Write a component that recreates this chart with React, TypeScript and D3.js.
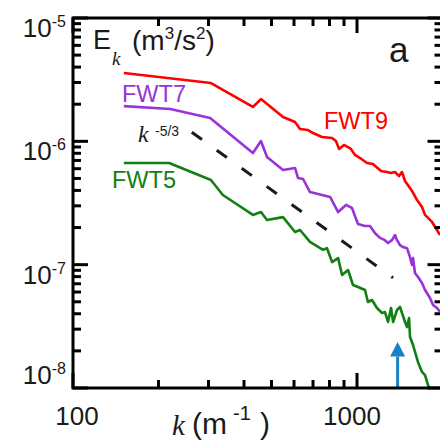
import React from "react";
import * as d3 from "d3";

// Wavenumber spectra of kinetic energy for three runs
const kFWT9 = [151, 306, 430, 459, 549, 605, 630, 672, 700, 753, 817, 843, 865, 900, 952, 984, 1025, 1084, 1138, 1215, 1275, 1318, 1361, 1406, 1440, 1476, 1562, 1627, 1694, 1736, 1837, 1913, 1960];
const eFWT9 = [3.58e-6, 2.97e-6, 1.9e-6, 2.2e-6, 1.575e-6, 1.434e-6, 1.26e-6, 1.235e-6, 1.168e-6, 1.084e-6, 1.064e-6, 1.006e-6, 8.67e-7, 9.34e-7, 8.67e-7, 7.75e-7, 7.32e-7, 6.67e-7, 6.55e-7, 5.75e-7, 5.64e-7, 5.53e-7, 5.64e-7, 5.23e-7, 5.64e-7, 4.77e-7, 3.96e-7, 3.34e-7, 2.93e-7, 2.53e-7, 2.22e-7, 1.91e-7, 1.74e-7];

const kFWT7 = [151, 220, 304, 430, 459, 482, 549, 605, 620, 646, 683, 804, 858, 915, 960, 1008, 1067, 1111, 1158, 1205, 1254, 1286, 1328, 1361, 1383, 1417, 1452, 1500, 1537, 1562, 1575, 1600, 1640, 1694, 1736, 1807, 1852, 1913, 1960];
const eFWT7 = [1.93e-6, 1.83e-6, 1.546e-6, 8.04e-7, 1.006e-6, 7.46e-7, 5.86e-7, 6.08e-7, 5.04e-7, 4.95e-7, 3.88e-7, 3.54e-7, 2.67e-7, 3.05e-7, 2.88e-7, 2.14e-7, 2.06e-7, 2.06e-7, 1.8e-7, 1.65e-7, 1.58e-7, 1.5e-7, 1.58e-7, 1.74e-7, 1.58e-7, 1.44e-7, 1.39e-7, 1.36e-7, 1.15e-7, 9.94e-8, 1.13e-7, 8.56e-8, 7.94e-8, 7.1e-8, 6.23e-8, 5.37e-8, 4.71e-8, 4.45e-8, 4.13e-8];

const kFWT5 = [151, 218, 306, 337, 430, 459, 482, 549, 605, 630, 683, 759, 784, 817, 858, 886, 930, 968, 1008, 1067, 1093, 1129, 1176, 1225, 1254, 1286, 1318, 1340, 1383, 1417, 1476, 1500, 1525, 1537, 1575, 1640, 1694, 1736, 1778, 1807];
const eFWT5 = [6.67e-7, 6.67e-7, 4.86e-7, 3.67e-7, 2.53e-7, 2.67e-7, 2.3e-7, 2.43e-7, 1.84e-7, 1.91e-7, 1.53e-7, 1.32e-7, 1.36e-7, 1.05e-7, 1.13e-7, 8.24e-8, 9.05e-8, 6.84e-8, 6.59e-8, 6.23e-8, 4.98e-8, 5.17e-8, 4.45e-8, 4.06e-8, 4.13e-8, 3.43e-8, 4.45e-8, 3.43e-8, 4.29e-8, 4.54e-8, 3.43e-8, 3.12e-8, 3.69e-8, 2.59e-8, 2.23e-8, 1.62e-8, 1.35e-8, 1.27e-8, 1.06e-8, 9.6e-9];

// Kolmogorov k^-5/3 reference slope
const lawRange = [262, 1340];
const lawRef = [593, 3.04e-7];
const lawExponent = -5 / 3;

// Marked wavenumber (arrow)
const arrowK = 1390;
const arrowTipE = 2.36e-8;
const arrowHeadE = 1.8e-8;

const xTickMajor = [100, 1000];
const xTickLabels = ["100", "1000"];
const yTickMajor = [1e-8, 1e-7, 1e-6, 1e-5];
const yTickExp = ["-8", "-7", "-6", "-5"];

const W = 440;
const H = 446;
const left = 73;
const top = 18;
const bottom = 388;
const right = 442.5;

const RED = "#ff0000";
const PURPLE = "#9a32db";
const GREEN = "#117f11";
const BLUE = "#1b7fc6";
const SANS = "'Liberation Sans', Arial, sans-serif";
const SERIF = "'Liberation Serif', 'Times New Roman', serif";

export default function App() {
  const x = d3.scaleLog().domain([100, 2000]).range([left, right]);
  const y = d3.scaleLog().domain([1e-8, 1e-5]).range([bottom, top]);

  const line = d3
    .line<[number, number]>()
    .x((d) => x(d[0]))
    .y((d) => y(d[1]));

  const zip = (ks: number[], es: number[]) => ks.map((k, i) => [k, es[i]] as [number, number]);

  const series = [
    { id: "FWT9", data: zip(kFWT9, eFWT9), color: RED },
    { id: "FWT7", data: zip(kFWT7, eFWT7), color: PURPLE },
    { id: "FWT5", data: zip(kFWT5, eFWT5), color: GREEN },
  ];

  const lawE = (k: number) => lawRef[1] * Math.pow(k / lawRef[0], lawExponent);
  const lawPts: [number, number][] = lawRange.map((k) => [k, lawE(k)]);

  // minor ticks
  const xMinor: number[] = [];
  for (let d = 100; d <= 1000; d *= 10) for (let m = 2; m <= 9; m++) if (d * m < 2000) xMinor.push(d * m);
  const yMinor: number[] = [];
  for (let d = 1e-8; d < 1e-5; d *= 10) for (let m = 2; m <= 9; m++) yMinor.push(d * m);

  const major = 15;
  const minor = 8;

  const ax = x(arrowK);

  // the lowest decade label is lifted so it clears the x tick labels
  const yLabelBaseline = (v: number) => (v === 1e-8 ? y(v) - 4 : y(v) + 19);

  return (
    <svg width={W} height={H} style={{ position: "absolute", left: 0, top: 0, background: "#fff" }}>
      <defs>
        <clipPath id="plot">
          <rect x={left} y={top} width={right - left} height={bottom - top} />
        </clipPath>
      </defs>

      {/* data curves */}
      <g clipPath="url(#plot)" fill="none" strokeLinejoin="round">
        {series.map((s) => (
          <path key={s.id} d={line(s.data) || ""} stroke={s.color} strokeWidth={2.6} />
        ))}
        <path
          d={line(lawPts) || ""}
          stroke="#1a1a1a"
          strokeWidth={3}
          strokeDasharray="12.5 18.3"
        />
      </g>

      {/* arrow */}
      <g fill={BLUE}>
        <rect x={ax - 1.5} y={y(arrowHeadE)} width={3} height={bottom - y(arrowHeadE)} />
        <path d={`M${ax},${y(arrowTipE)} L${ax + 7.5},${y(arrowHeadE)} L${ax - 7.5},${y(arrowHeadE)} Z`} />
      </g>

      {/* ticks */}
      <g stroke="#000" strokeWidth={3}>
        {xTickMajor.map((v) => (
          <g key={"xM" + v}>
            <line x1={x(v)} x2={x(v)} y1={bottom} y2={bottom - major} />
            <line x1={x(v)} x2={x(v)} y1={top} y2={top + major} />
          </g>
        ))}
        {xMinor.map((v) => (
          <g key={"xm" + v}>
            <line x1={x(v)} x2={x(v)} y1={bottom} y2={bottom - minor} />
            <line x1={x(v)} x2={x(v)} y1={top} y2={top + minor} />
          </g>
        ))}
        {yTickMajor.map((v) => (
          <g key={"yM" + v}>
            <line x1={left} x2={left + major} y1={y(v)} y2={y(v)} />
            <line x1={right} x2={right - major} y1={y(v)} y2={y(v)} />
          </g>
        ))}
        {yMinor.map((v) => (
          <g key={"ym" + v}>
            <line x1={left} x2={left + minor} y1={y(v)} y2={y(v)} />
            <line x1={right} x2={right - minor} y1={y(v)} y2={y(v)} />
          </g>
        ))}
      </g>

      {/* frame */}
      <rect x={left} y={top} width={right - left} height={bottom - top} fill="none" stroke="#000" strokeWidth={3} />

      {/* tick labels */}
      <g fontFamily={SANS} fill="#1a1a1a">
        {yTickMajor.map((v, i) => (
          <text key={"yl" + v} x={66} y={yLabelBaseline(v)} textAnchor="end" fontSize={26}>
            10
            <tspan fontSize={16} dy={-10}>
              {yTickExp[i]}
            </tspan>
          </text>
        ))}
        {xTickMajor.map((v, i) => (
          <text key={"xl" + v} x={x(v) + (i === 0 ? 4 : -5)} y={425} textAnchor="middle" fontSize={26}>
            {xTickLabels[i]}
          </text>
        ))}
      </g>

      {/* axis titles */}
      <g fill="#1a1a1a">
        <text x={172} y={435} fontFamily={SERIF} fontStyle="italic" fontSize={29}>k</text>
        <text x={192} y={434} fontFamily={SANS} fontSize={30}>(m</text>
        <text x={233} y={420} fontFamily={SANS} fontSize={20}>-1</text>
        <text x={260} y={434} fontFamily={SANS} fontSize={30}>)</text>

        <text x={93} y={49} fontFamily={SANS} fontSize={27}>E</text>
        <text x={112} y={65} fontFamily={SERIF} fontStyle="italic" fontSize={19}>k</text>
        <text x={132} y={50} fontFamily={SANS} fontSize={28}>
          (m<tspan fontSize={17} dy={-11}>3</tspan>
          <tspan dy={11}>/s</tspan>
          <tspan fontSize={17} dy={-11}>2</tspan>
          <tspan dy={11}>)</tspan>
        </text>

        <text x={389} y={62} fontFamily={SANS} fontSize={35}>a</text>

        <text x={138} y={142} fontFamily={SERIF} fontStyle="italic" fontSize={24}>k</text>
        <text x={155} y={136} fontFamily={SANS} fontSize={14}>-5/3</text>
      </g>

      {/* series labels */}
      <g fontFamily={SANS} fontSize={23.5}>
        <text x={324} y={129} fill={RED}>FWT9</text>
        <text x={122} y={102} fill={PURPLE}>FWT7</text>
        <text x={112} y={188} fill={GREEN}>FWT5</text>
      </g>
    </svg>
  );
}
